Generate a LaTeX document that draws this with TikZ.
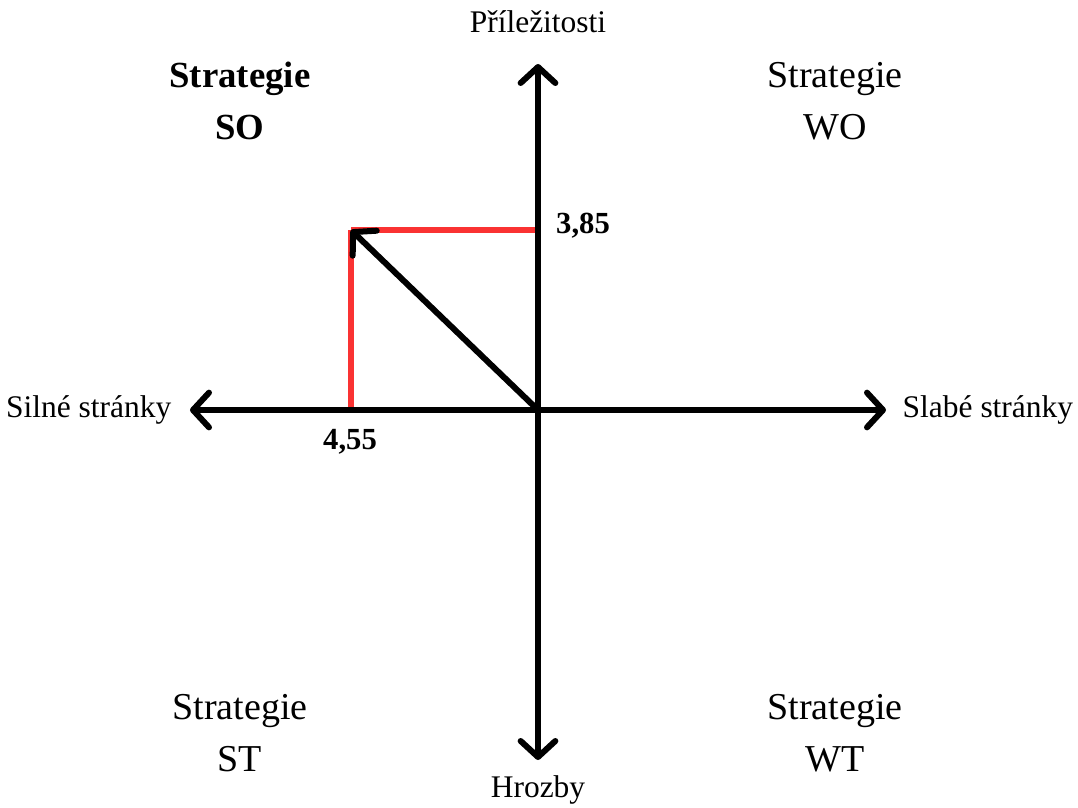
\documentclass[tikz,border=0pt]{standalone}
\usepackage{fontspec}
\setmainfont{Liberation Serif}
\usetikzlibrary{arrows.meta,positioning}
\definecolor{swotred}{RGB}{250,50,50}
\tikzset{axis/.style={line width=4.5pt, -{Straight Barb[length=12pt,width=26pt,round]}},
         quadlabel/.style={font=\fontsize{28.5}{39}\selectfont, align=center},
         axislabel/.style={font=\fontsize{23.6}{28}\selectfont}}

\begin{document}
\begin{tikzpicture}[x=0.75pt, y=-0.75pt]
\useasboundingbox (0,0) rectangle (1078,807);
\coordinate (o) at (538,410);
\coordinate (top) at (538,64);
\coordinate (bot) at (538,760);
\coordinate (lft) at (190,410);
\coordinate (rgt) at (886,410);
\coordinate (p) at (351,230);
% red projections
\draw[swotred, line width=4pt] (p) -- (351,410);
\draw[swotred, line width=4pt] (p) -- (538,230);
% axes
\draw[axis] (o) -- (top);
\draw[axis] (o) -- (bot);
\draw[axis] (o) -- (lft);
\draw[axis] (o) -- (rgt);
\draw[axis] (o) -- (p);
% labels
\node[axislabel] (opp) at (538,22) {Příležitosti};
\node[axislabel] (thr) at (538,790) {Hrozby};
\node[axislabel, anchor=east] (str) at (176,410) {Silné stránky};
\node[axislabel, anchor=west] (wea) at (898,410) {Slabé stránky};
\node[axislabel, font=\fontsize{23}{28}\selectfont\bfseries] (vy) at (583,226) {3,85};
\node[axislabel, font=\fontsize{23}{28}\selectfont\bfseries] (vx) at (350,442) {4,55};
\node[quadlabel, font=\fontsize{27.6}{39}\selectfont\bfseries] (so) at (240,101) {Strategie\\SO};
\node[quadlabel] (wo) at (835,101) {Strategie\\WO};
\node[quadlabel] (st) at (240,733) {Strategie\\ST};
\node[quadlabel] (wt) at (835,733) {Strategie\\WT};
\end{tikzpicture}
\end{document}
